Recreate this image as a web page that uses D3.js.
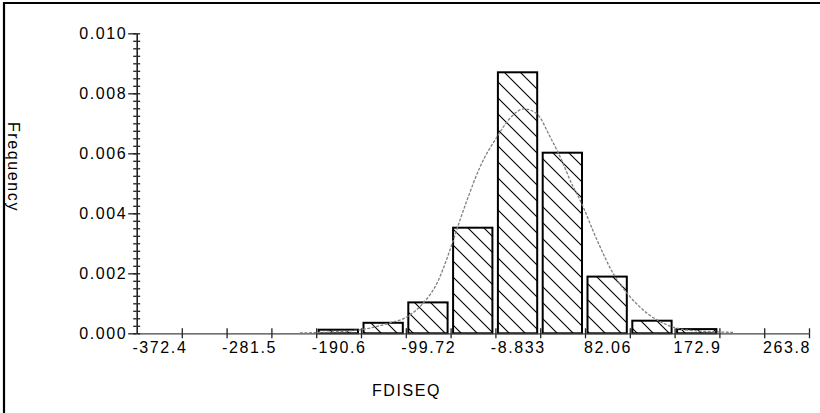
<!DOCTYPE html>
<html>
<head>
<meta charset="utf-8">
<script src="https://cdn.jsdelivr.net/npm/d3@7"></script>
<style>
  html, body { margin: 0; padding: 0; background: #fff; }
  svg { display: block; }
  text { font-family: "Liberation Sans", Arial, sans-serif; font-size: 16px; fill: #000; letter-spacing: 1.6px; }
</style>
</head>
<body>
<svg id="chart" width="820" height="413"></svg>
<script>
// ---- data ----
const binEdges = [-395.12, -349.68, -304.23, -258.79, -213.34, -167.90, -122.45, -77.01,
                  -31.56, 13.88, 59.33, 104.77, 150.22, 195.66, 241.11, 286.55];
const barLower = [-213.34, -167.90, -122.45, -77.01, -31.56, 13.88, 59.33, 104.77, 150.22];
const barUpper = [-167.90, -122.45, -77.01, -31.56, 13.88, 59.33, 104.77, 150.22, 195.66];
const barDensity = [0.00012, 0.00035, 0.00103, 0.00352, 0.00870, 0.00602, 0.00189, 0.00042, 0.00014];
const xLabelValues = [-372.4, -281.5, -190.6, -99.72, -8.833, 82.06, 172.9, 263.8];
const xLabels = ["-372.4", "-281.5", "-190.6", "-99.72", "-8.833", "82.06", "172.9", "263.8"];
const yMajorTicks = [0, 0.002, 0.004, 0.006, 0.008, 0.010];
const yLabels = ["0.000", "0.002", "0.004", "0.006", "0.008", "0.010"];
const yMinorTicks = d3.range(0, 41).map(i => i * 0.00025);
// fitted curve
const curveX = [-229.8, -189.2, -165.9, -138.5, -121.2, -105.0, -90.8, -77.6, -67.4, -60.3, -47.1,
                -29.9, -16.7, -2.5, 10.7, 23.9, 34.0, 47.2, 54.3, 71.5, 87.8, 105.0, 122.3, 142.5, 162.9, 209.5];
const curveY = [0.00001, 0.00006, 0.00013, 0.00035, 0.00055, 0.0010, 0.00167, 0.00278, 0.00378, 0.00444, 0.00555,
                0.00655, 0.00717, 0.00748, 0.00731, 0.00655, 0.00589, 0.00489, 0.00444, 0.00311, 0.0020, 0.00122, 0.00067, 0.00028, 0.00011, 0.00003];
const xTitle = "FDISEQ";
const yTitle = "Frequency";

// ---- layout ----
const svg = d3.select("#chart");
const x = d3.scaleLinear().domain([binEdges[0], binEdges[binEdges.length - 1]]).range([137, 809]);
const y = d3.scaleLinear().domain([0, 0.010]).range([333.3, 33.3]);

// frame
svg.append("rect").attr("x", 0).attr("y", 0).attr("width", 820).attr("height", 413).attr("fill", "#fff");
svg.append("line").attr("x1", 3).attr("x2", 820).attr("y1", 3).attr("y2", 3).attr("stroke", "#000").attr("stroke-width", 2.2);
svg.append("line").attr("x1", 4).attr("x2", 4).attr("y1", 2).attr("y2", 413).attr("stroke", "#000").attr("stroke-width", 2.2);

// hatch pattern
const defs = svg.append("defs");
const pat = defs.append("pattern").attr("id", "hatch").attr("patternUnits", "userSpaceOnUse")
  .attr("width", 16).attr("height", 16);
pat.append("path").attr("d", "M0,0 L16,16 M-4,12 L4,20 M12,-4 L20,4")
  .attr("stroke", "#000").attr("stroke-width", 1.1).attr("fill", "none");

// bars
const bars = barLower.map((lo, i) => ({ lo, hi: barUpper[i], d: barDensity[i] }));
svg.append("g").selectAll("rect").data(bars).join("rect")
  .attr("x", d => x(d.lo) + 2.5)
  .attr("width", d => x(d.hi) - x(d.lo) - 5.5)
  .attr("y", d => y(d.d))
  .attr("height", d => y(0) - y(d.d))
  .attr("fill", "url(#hatch)")
  .attr("stroke", "#000").attr("stroke-width", 2);

// x axis
const gx = svg.append("g").attr("transform", `translate(0,${y(0)})`);
gx.call(d3.axisBottom(x).tickValues(binEdges.slice(1)).tickSize(5).tickFormat("").tickSizeOuter(0));
gx.call(g => g.select(".domain").attr("stroke", "#444").attr("stroke-width", 1.2));
const gx2 = svg.append("g").attr("transform", `translate(0,${y(0)})`);
gx2.call(d3.axisTop(x).tickValues(binEdges.slice(1)).tickSize(5).tickFormat("").tickSizeOuter(0));
gx2.select(".domain").remove();
svg.selectAll(".tick line").attr("stroke", "#222").attr("stroke-width", 1.3);

const gxl = svg.append("g").attr("transform", `translate(0,${y(0)})`);
gxl.call(d3.axisBottom(x).tickValues(xLabelValues).tickSize(0).tickPadding(8.6)
  .tickFormat((d, i) => xLabels[i]));
gxl.select(".domain").remove();
gxl.selectAll("text").attr("font-size", null).attr("font-family", null).attr("fill", "#000");

// y axis
const gyMinL = svg.append("g").attr("transform", "translate(136.7,0)");
gyMinL.call(d3.axisLeft(y).tickValues(yMinorTicks).tickSize(3.5).tickFormat(""));
gyMinL.select(".domain").remove();
const gyMinR = svg.append("g").attr("transform", "translate(136.7,0)");
gyMinR.call(d3.axisRight(y).tickValues(yMinorTicks).tickSize(3.5).tickFormat(""));
gyMinR.select(".domain").remove();
const gy = svg.append("g").attr("transform", "translate(136.7,0)");
gy.call(d3.axisLeft(y).tickValues(yMajorTicks).tickSize(8.5).tickPadding(1)
  .tickFormat((d, i) => yLabels[i]).tickSizeOuter(0));
gy.select(".domain").attr("stroke", "#222").attr("stroke-width", 1.6);
gy.selectAll("text").attr("font-size", null).attr("font-family", null).attr("fill", "#000");
svg.selectAll(".tick line").attr("stroke", "#222").attr("stroke-width", 1.3);

// fitted curve
const pts = curveX.map((v, i) => [v, curveY[i]]);
svg.append("path").datum(pts)
  .attr("d", d3.line().x(d => x(d[0])).y(d => y(d[1])).curve(d3.curveMonotoneX))
  .attr("fill", "none").attr("stroke", "#808080").attr("stroke-width", 1.3)
  .attr("stroke-dasharray", "3,1.5");

// titles
svg.append("text").attr("transform", "translate(8,167) rotate(90)")
  .attr("text-anchor", "middle").text(yTitle);
svg.append("text").attr("x", 372).attr("y", 396).attr("text-anchor", "start").text(xTitle);
</script>
</body>
</html>
